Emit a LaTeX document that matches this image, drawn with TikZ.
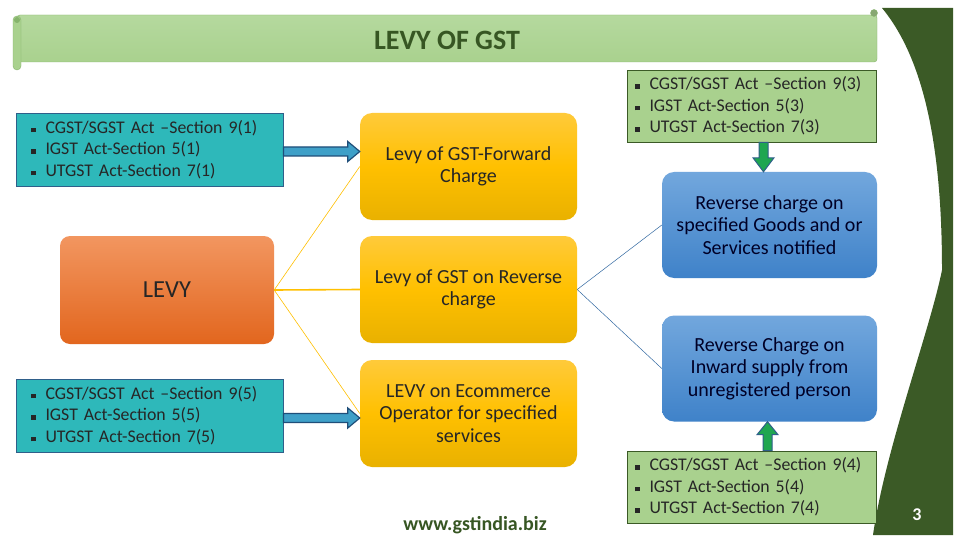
\documentclass[tikz,border=0pt]{standalone}
\usepackage{fontspec}
\setmainfont{Carlito}
\usetikzlibrary{calc}

\definecolor{titlegreen}{HTML}{375623}
\definecolor{bandlight}{HTML}{B5D99E}
\definecolor{bandgreen}{HTML}{A9D18E}
\definecolor{bandedge}{HTML}{86B46C}
\definecolor{tealbox}{HTML}{2EB8BA}
\definecolor{tealedge}{HTML}{2F5F8A}
\definecolor{arrowblue}{HTML}{3FA0C8}
\definecolor{darkblue}{HTML}{1F4E79}
\definecolor{orangetop}{HTML}{F29660}
\definecolor{orangebot}{HTML}{E2661E}
\definecolor{goldtop}{HTML}{FFCA3A}
\definecolor{goldmid}{HTML}{FFC000}
\definecolor{goldbot}{HTML}{E9B100}
\definecolor{bluetop}{HTML}{72A7DD}
\definecolor{bluebot}{HTML}{3F82C9}
\definecolor{arrowgreen}{HTML}{1FA650}
\definecolor{forest}{HTML}{3B5A26}

\newcommand\sqb{\rule[1pt]{4.5pt}{4.5pt}\hspace{10pt}}
\newcommand\rightblock[2]{\draw[flowarrow] ($(#1)+(0,-4.5)$) -- ($(#2)+(-12,-4.5)$) -- ($(#2)+(-12,-10)$) -- (#2) -- ($(#2)+(-12,10)$) -- ($(#2)+(-12,4.5)$) -- ($(#1)+(0,4.5)$) -- cycle;}
\newcommand\vertblock[3]{\draw[uparrow] ($(#1)+(-4.5,0)$) -- ($(#2)+(-4.5,#3)$) -- ($(#2)+(-10.5,#3)$) -- (#2) -- ($(#2)+(10.5,#3)$) -- ($(#2)+(4.5,#3)$) -- ($(#1)+(4.5,0)$) -- cycle;}

\begin{document}
\begin{tikzpicture}[x=1pt, y=-1pt,
	every node/.style={font=\fontsize{20}{22.5}\selectfont, text=black!85},
	actbox/.style={draw=tealedge, fill=tealbox, line width=0.8pt, minimum width=267pt, minimum height=73pt, text width=237pt, inner xsep=15pt, align=left, font=\fontsize{17.8}{21.7}\selectfont},
	secbox/.style={actbox, draw=forest, fill=bandgreen, minimum width=249pt, minimum height=72pt, text width=233pt, inner xsep=8pt},
	levybox/.style={rounded corners=10pt, top color=orangetop, bottom color=orangebot, minimum width=214pt, minimum height=108pt, font=\fontsize{24.5}{28}\selectfont},
	modebox/.style={rounded corners=12pt, top color=goldtop, bottom color=goldbot, middle color=goldmid, minimum width=217pt, minimum height=107pt, align=center},
	rcbox/.style={rounded corners=12pt, top color=bluetop, bottom color=bluebot, minimum width=215pt, minimum height=106pt, align=center, text=black!85!blue},
	link/.style={draw=goldmid, line width=0.6pt},
	rclink/.style={draw=bluebot!80!black, line width=0.5pt},
	flowarrow/.style={draw=darkblue, fill=arrowblue, line width=1.2pt},
	uparrow/.style={draw=tealedge, fill=arrowgreen, line width=1pt}]
	\useasboundingbox (0,0) rectangle (960,540);
	\fill[white] (0,0) rectangle (960,540);

	\fill[forest] (882,8) -- (953,8) -- (953,535) -- (873,535) .. controls (885,450) and (930,330) .. (942,270) .. controls (942,150) and (925,60) .. (882,8) -- cycle;
	\node[text=white, font=\bfseries\fontsize{18}{20}\selectfont] (page) at (917,515) {3};

	\draw[bandedge, top color=bandlight, bottom color=bandgreen, rounded corners=3pt] (17,15) rectangle (877,62);
	\draw[bandedge, fill=bandgreen, rounded corners=4pt] (13,16) rectangle (21,70);
	\fill[bandedge] (17,20) circle (3pt);
	\draw[bandedge, fill=bandgreen!80!black] (874,13) circle (3.5pt);
	\node[text=titlegreen, font=\bfseries\fontsize{28}{32}\selectfont] (title) at (447,40) {LEVY OF GST};

	\node[actbox] (fwdlaw) at (149.5,149.5) {\sqb CGST/SGST Act –Section 9(1)\\ \sqb IGST Act-Section 5(1)\\ \sqb UTGST Act-Section 7(1)};
	\node[levybox] (levy) at (167,290) {LEVY};
	\node[actbox] (ecolaw) at (149.5,415.5) {\sqb CGST/SGST Act –Section 9(5)\\ \sqb IGST Act-Section 5(5)\\ \sqb UTGST Act-Section 7(5)};

	\node[modebox] (fwd) at (468.5,166.5) {Levy of GST-Forward\\Charge};
	\node[modebox] (rev) at (468.5,289.5) {Levy of GST on Reverse\\charge};
	\node[modebox] (eco) at (468.5,413.5) {LEVY on Ecommerce\\Operator for specified\\services};

	\node[secbox] (notlaw) at (751.5,106) {\sqb CGST/SGST Act –Section 9(3)\\ \sqb IGST Act-Section 5(3)\\ \sqb UTGST Act-Section 7(3)};
	\node[rcbox] (notif) at (769.5,225) {Reverse charge on\\specified Goods and or\\Services notified};
	\node[rcbox] (unreg) at (769.5,368.5) {Reverse Charge on\\Inward supply from\\unregistered person};
	\node[secbox] (unreglaw) at (751.5,487) {\sqb CGST/SGST Act –Section 9(4)\\ \sqb IGST Act-Section 5(4)\\ \sqb UTGST Act-Section 7(4)};

	\node[text=titlegreen, font=\bfseries\fontsize{20}{22}\selectfont] (site) at (475,525) {www.gstindia.biz};

	\draw[link] (levy.east) -- (fwd.west);
	\draw[link, line width=1.6pt] (levy.east) -- (rev.west);
	\draw[link] (levy.east) -- (eco.west);
	\draw[rclink] (rev.east) -- (notif.west);
	\draw[rclink] (rev.east) -- (unreg.west);

	\coordinate (fwdtip) at ([yshift=-2pt]fwdlaw.east -| fwd.west);
	\coordinate (fwdtail) at ([yshift=-2pt]fwdlaw.east);
	\coordinate (ecotip) at ([yshift=-2.5pt]ecolaw.east -| eco.west);
	\coordinate (ecotail) at ([yshift=-2.5pt]ecolaw.east);
	\rightblock{fwdtail}{fwdtip}
	\rightblock{ecotail}{ecotip}

	\coordinate (nottip) at ([xshift=-6pt]notif.north);
	\coordinate (nottail) at (notlaw.south -| nottip);
	\coordinate (unregtip) at ([xshift=-2pt]unreg.south);
	\coordinate (unregtail) at (unreglaw.north -| unregtip);
	\vertblock{nottail}{nottip}{-14}
	\vertblock{unregtail}{unregtip}{13}
\end{tikzpicture}
\end{document}
